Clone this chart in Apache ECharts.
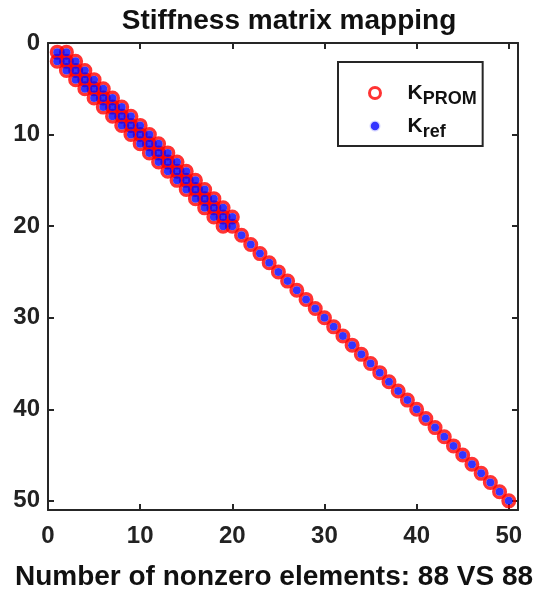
<!DOCTYPE html>
<html>
<head>
<meta charset="utf-8">
<script src="https://cdn.jsdelivr.net/npm/echarts@6/dist/echarts.min.js"></script>
<style>
  html, body { margin: 0; padding: 0; background: #fff; }
  #chart { width: 555px; height: 592px; }
</style>
</head>
<body>
<div id="chart"></div>
<script>
// Nonzero pattern of the 50x50 stiffness matrix (1-based row / column indices)
const kRows = [
  1, 2, 3, 4, 5, 6, 7, 8, 9, 10, 11, 12, 13, 14, 15, 16, 17, 18, 19, 20,
  21, 22, 23, 24, 25, 26, 27, 28, 29, 30, 31, 32, 33, 34, 35, 36, 37, 38, 39, 40,
  41, 42, 43, 44, 45, 46, 47, 48, 49, 50,
  1, 2, 3, 4, 5, 6, 7, 8, 9, 10, 11, 12, 13, 14, 15, 16, 17, 18, 19,
  2, 3, 4, 5, 6, 7, 8, 9, 10, 11, 12, 13, 14, 15, 16, 17, 18, 19, 20
];
const kCols = [
  1, 2, 3, 4, 5, 6, 7, 8, 9, 10, 11, 12, 13, 14, 15, 16, 17, 18, 19, 20,
  21, 22, 23, 24, 25, 26, 27, 28, 29, 30, 31, 32, 33, 34, 35, 36, 37, 38, 39, 40,
  41, 42, 43, 44, 45, 46, 47, 48, 49, 50,
  2, 3, 4, 5, 6, 7, 8, 9, 10, 11, 12, 13, 14, 15, 16, 17, 18, 19, 20,
  1, 2, 3, 4, 5, 6, 7, 8, 9, 10, 11, 12, 13, 14, 15, 16, 17, 18, 19
];
const nnzProm = 88;
const nnzRef = 88;
const axisMax = 51;
const tickStep = 10;

const promPoints = kRows.map((r, i) => [kCols[i], r]);
const refPoints = kRows.map((r, i) => [kCols[i], r]);

const font = 'Liberation Sans, Arial, Helvetica, sans-serif';
const chart = echarts.init(document.getElementById('chart'), null, { renderer: 'canvas' });

const tickLabel = { color: '#222', fontSize: 24, fontWeight: 'bold', fontFamily: font };
const axisLine = { show: true, onZero: false, lineStyle: { color: '#262626', width: 2 } };
const axisTick = { show: true, inside: true, length: 6, lineStyle: { color: '#262626', width: 2 } };

chart.setOption({
  animation: false,
  backgroundColor: '#fff',
  title: {
    text: 'Stiffness matrix mapping',
    left: 284, top: 2, textAlign: 'center',
    textStyle: { color: '#111', fontSize: 28, fontWeight: 'bold', fontFamily: font }
  },
  grid: { left: 48, top: 43, width: 470, height: 467, containLabel: false, outerBoundsMode: 'none' },
  xAxis: [{
    type: 'value', min: 0, max: axisMax, interval: tickStep, position: 'bottom',
    axisLine, axisTick, splitLine: { show: false },
    axisLabel: Object.assign({ margin: 14, showMaxLabel: false }, tickLabel),
    name: 'Number of nonzero elements: ' + nnzProm + ' VS ' + nnzRef,
    nameLocation: 'middle', nameGap: 53,
    nameTextStyle: { color: '#111', fontSize: 28, fontWeight: 'bold', fontFamily: font, padding: [0, 18, 0, 0] }
  }, {
    type: 'value', min: 0, max: axisMax, interval: tickStep, position: 'top',
    axisLine, axisTick, splitLine: { show: false }, axisLabel: { show: false }
  }],
  yAxis: [{
    type: 'value', min: 0, max: axisMax, interval: tickStep, inverse: true, position: 'left',
    axisLine, axisTick, splitLine: { show: false },
    axisLabel: Object.assign({ margin: 8, showMaxLabel: false }, tickLabel)
  }, {
    type: 'value', min: 0, max: axisMax, interval: tickStep, inverse: true, position: 'right',
    axisLine, axisTick, splitLine: { show: false }, axisLabel: { show: false }
  }],
  legend: {
    orient: 'vertical', left: 338, top: 62,
    borderColor: '#262626', borderWidth: 2, backgroundColor: '#fff',
    padding: [16, 6, 5, 30],
    itemGap: 3, itemWidth: 11, itemHeight: 11,
    data: [
      { name: 'K_PROM', icon: 'circle', itemStyle: { color: '#fff', borderColor: '#ff0000', borderWidth: 3 } },
      { name: 'K_ref', icon: 'circle', itemStyle: { color: '#0000ff', borderColor: '#fff', borderWidth: 2.5 } }
    ],
    formatter: name => name === 'K_PROM' ? '{k|K}{s|PROM}' : '{k|K}{s|ref}',
    textStyle: {
      color: '#111', fontFamily: font, padding: [0, 0, 0, 22],
      rich: {
        k: { fontSize: 21, fontWeight: 'bold', fontFamily: font, color: '#111', lineHeight: 33, verticalAlign: 'middle' },
        s: { fontSize: 18, fontWeight: 'bold', fontFamily: font, color: '#111', lineHeight: 16, padding: [12, 0, 0, 0], verticalAlign: 'middle' }
      }
    }
  },
  series: [{
    name: 'K_PROM', type: 'scatter', data: promPoints,
    symbol: 'circle', symbolSize: 11.5,
    itemStyle: { color: 'rgba(0,0,0,0)', borderColor: '#ff0000', borderWidth: 3.5 },
    z: 2
  }, {
    name: 'K_ref', type: 'scatter', data: refPoints,
    symbol: 'circle', symbolSize: 8,
    itemStyle: { color: '#0000ff' },
    z: 3
  }]
});
</script>
</body>
</html>
